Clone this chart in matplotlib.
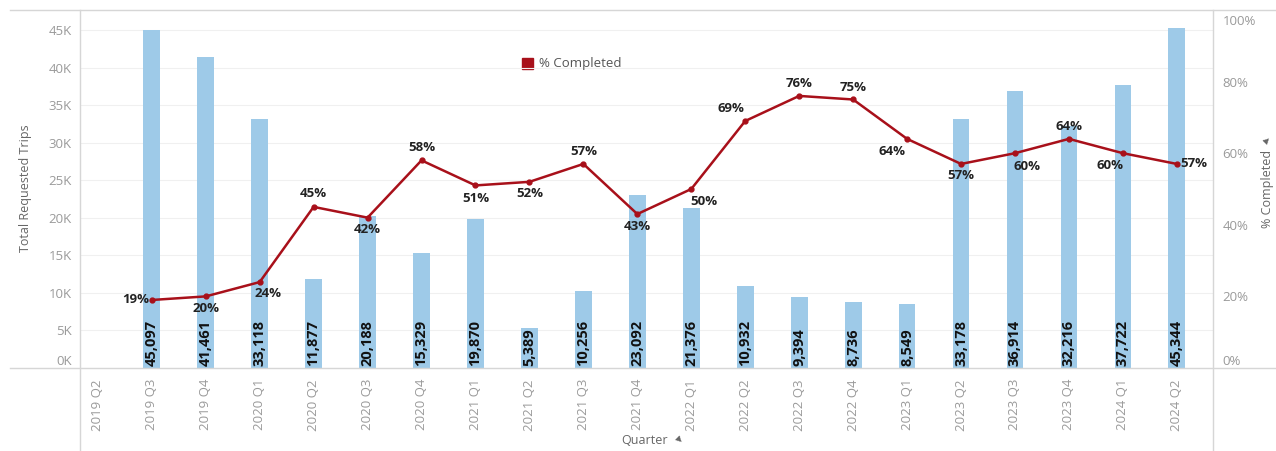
import numpy as np
import matplotlib
matplotlib.use("Agg")
import matplotlib.pyplot as plt
from matplotlib.lines import Line2D
from matplotlib.patches import Rectangle
import matplotlib.transforms as mtransforms

plt.rcParams["font.family"] = ["Open Sans", "DejaVu Sans"]

quarters = ["2019 Q2", "2019 Q3", "2019 Q4", "2020 Q1", "2020 Q2", "2020 Q3",
            "2020 Q4", "2021 Q1", "2021 Q2", "2021 Q3", "2021 Q4", "2022 Q1",
            "2022 Q2", "2022 Q3", "2022 Q4", "2023 Q1", "2023 Q2", "2023 Q3",
            "2023 Q4", "2024 Q1", "2024 Q2"]
trips = [np.nan, 45097, 41461, 33118, 11877, 20188, 15329, 19870, 5389, 10256,
         23092, 21376, 10932, 9394, 8736, 8549, 33178, 36914, 32216, 37722, 45344]
pct_completed = [np.nan, 19, 20, 24, 45, 42, 58, 51, 52, 57, 43, 50, 69, 76, 75,
                 64, 57, 60, 64, 60, 57]
# label offset (px) of each % label relative to its point: dx, dy, ha
pct_offsets = [None, (-3, 0, "right"), (0, -12, "center"), (8, -11, "center"),
               (0, 13, "center"), (0, -12, "center"), (0, 13, "center"),
               (0, -13, "center"), (0, -12, "center"), (0, 12, "center"),
               (0, -12, "center"), (13, -13, "center"), (-14, 12, "center"),
               (0, 12, "center"), (0, 12, "center"), (-15, -13, "center"),
               (0, -12, "center"), (12, -13, "center"), (0, 12, "center"),
               (-13, -12, "center"), (3, 0, "left")]
left_ticks = [0, 5000, 10000, 15000, 20000, 25000, 30000, 35000, 40000, 45000]
right_ticks = [0, 20, 40, 60, 80, 100]

W, H = 1276, 451
BAR = "#9ecae8"
RED = "#a8101a"
TICK = "#9a9a9a"
EDGE = "#d6d6d6"

fig = plt.figure(figsize=(W / 100, H / 100), dpi=100)
ax = fig.add_axes([80 / W, 1 - 368 / H, (1213 - 80) / W, 358 / H])
ax2 = ax.twinx()
ax.set_zorder(1)
ax2.set_zorder(2)
ax.patch.set_visible(False)

x = np.arange(len(quarters))
ax.bar(x, trips, width=0.31, color=BAR, zorder=2)
ax.set_xlim(-0.33, 20.67)
ax.set_ylim(0, 47700)
ax.set_yticks(left_ticks)
ax.set_yticklabels([f"{t // 1000}K" for t in left_ticks])
ax.set_xticks(x)
ax.set_xticklabels(quarters, rotation=90)
ax.tick_params(axis="x", length=0, pad=8, labelsize=9.5, labelcolor=TICK)
ax.tick_params(axis="y", length=0, pad=6, labelsize=9.5, labelcolor=TICK)
for yt in left_ticks[1:]:
    ax.axhline(yt, color="#f0f0f0", lw=0.8, zorder=0)
for s in ax.spines.values():
    s.set_visible(False)

for xi, v in zip(x, trips):
    if np.isnan(v):
        continue
    ax.annotate(f"{int(v):,}", (xi, 0), xytext=(0, 1.5), textcoords="offset points",
                rotation=90, ha="center", va="bottom", fontsize=10.5,
                fontweight="bold", color="#111111", zorder=3)

ax2.plot(x, pct_completed, color=RED, lw=1.8, marker="o", ms=3.5, zorder=4)
ax2.set_ylim(0, 100)
ax2.set_yticks(right_ticks)
ax2.set_yticklabels([f"{t}%" for t in right_ticks])
ax2.tick_params(axis="y", length=0, pad=7, labelsize=9.5, labelcolor=TICK)
for s in ax2.spines.values():
    s.set_visible(False)

for xi, v, off in zip(x, pct_completed, pct_offsets):
    if off is None:
        continue
    dx, dy, ha = off
    ax2.annotate(f"{int(v)}%", (xi, v), xytext=(dx * 0.72, dy * 0.72),
                 textcoords="offset points", ha=ha, va="center", fontsize=9.5,
                 fontweight="bold", color="#222222", zorder=5)

# nudge the end tick labels back inside the pane
for lab in [ax.get_yticklabels()[0], ax2.get_yticklabels()[0]]:
    lab.set_transform(lab.get_transform() +
                      mtransforms.ScaledTranslation(0, 8 / 100, fig.dpi_scale_trans))
top = ax2.get_yticklabels()[-1]
top.set_transform(top.get_transform() +
                  mtransforms.ScaledTranslation(0, -10 / 100, fig.dpi_scale_trans))

# pane borders
def hline(y, x0, x1):
    fig.add_artist(Line2D([x0 / W, x1 / W], [1 - y / H, 1 - y / H], color=EDGE, lw=1))

def vline(xp, y0, y1):
    fig.add_artist(Line2D([xp / W, xp / W], [1 - y0 / H, 1 - y1 / H], color=EDGE, lw=1))

hline(10, 10, W)
hline(368, 10, W)
vline(80, 10, H)
vline(1213, 10, H)

# axis titles
fig.text(25 / W, 1 - 188 / H, "Total Requested Trips", rotation=90, ha="center",
         va="center", fontsize=9, color="#666666")
fig.text(1268 / W, 1 - 189 / H, "% Completed", rotation=90, ha="center",
         va="center", fontsize=9, color="#666666")
fig.text(1268 / W, 1 - 138 / H, "\u25bc", rotation=135, ha="center", va="center",
         fontsize=6, color="#666666")
fig.text(645 / W, 1 - 441 / H, "Quarter", ha="center", va="center",
         fontsize=9, color="#666666")
fig.text(681 / W, 1 - 440 / H, "\u25bc", rotation=45, ha="center", va="center",
         fontsize=6, color="#666666")

# legend
fig.add_artist(Rectangle((522 / W, 1 - 69 / H), 11 / W, 11 / H, color=RED,
                         transform=fig.transFigure))
fig.text(539 / W, 1 - 63 / H, "% Completed", ha="left", va="center",
         fontsize=9.5, color="#555555")

fig.savefig("out.png", dpi=100)
